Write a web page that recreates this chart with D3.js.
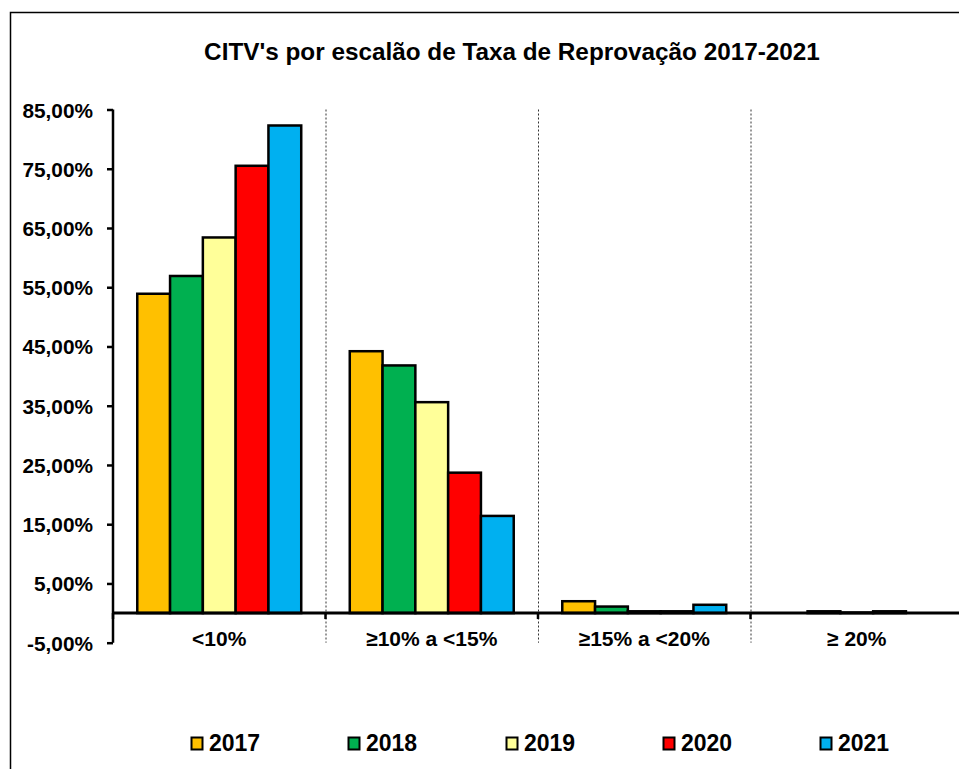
<!DOCTYPE html>
<html>
<head>
<meta charset="utf-8">
<script src="https://cdn.jsdelivr.net/npm/d3@7"></script>
<style>
  html, body { margin: 0; padding: 0; background: #fff; overflow: hidden; }
  text { font-family: "Liberation Sans", Arial, sans-serif; font-weight: bold; fill: #000; }
</style>
</head>
<body>
<svg id="chart" width="959" height="769"></svg>
<script>
const title = "CITV's por escalão de Taxa de Reprovação 2017-2021";
const categories = ["<10%", "≥10% a <15%", "≥15% a <20%", "≥ 20%"];
const years = ["2017", "2018", "2019", "2020", "2021"];
const colors = ["#FFC000", "#00B050", "#FFFF99", "#FF0000", "#00B0F0"];
const values2017 = [53.9, 44.2, 2.0, 0.0];
const values2018 = [56.9, 41.8, 1.1, 0.3];
const values2019 = [63.4, 35.6, 0.3, 0.1];
const values2020 = [75.5, 23.7, 0.3, 0.3];
const values2021 = [82.3, 16.4, 1.4, 0.0];
const yTicks = [-5, 5, 15, 25, 35, 45, 55, 65, 75, 85];

const series = [values2017, values2018, values2019, values2020, values2021];
const svg = d3.select("#chart");

// frame
svg.append("rect").attr("x", 10.5).attr("y", 12.5).attr("width", 1000).attr("height", 1000)
  .attr("fill", "none").attr("stroke", "#000").attr("stroke-width", 1.5);

const x0 = d3.scaleBand().domain(categories).range([113, 963]).padding(0);
const x1 = d3.scaleBand().domain(years).range([0, x0.bandwidth()]).paddingInner(0).paddingOuter(0.74);
const y = d3.scaleLinear().domain([-5, 85]).range([642.7, 109.5]);

// title
svg.append("text").attr("x", 512).attr("y", 60).attr("text-anchor", "middle")
  .style("font-size", "24.3px").text(title);

// dotted vertical separators
svg.append("g").selectAll("line").data(categories.slice(1).concat(["__end"]))
  .join("line")
  .attr("x1", (d, i) => 113 + x0.step() * (i + 1) + 0.5)
  .attr("x2", (d, i) => 113 + x0.step() * (i + 1) + 0.5)
  .attr("y1", y(85)).attr("y2", y(-5))
  .attr("stroke", "#333").attr("stroke-width", 1).attr("stroke-dasharray", "2,2");

// bars
const data = [];
categories.forEach((c, ci) => years.forEach((yr, yi) => data.push({ c, yr, yi, v: series[yi][ci] })));
svg.append("g").selectAll("rect").data(data).join("rect")
  .attr("x", d => x0(d.c) + x1(d.yr))
  .attr("width", x1.bandwidth())
  .attr("y", d => y(Math.max(d.v, 0)))
  .attr("height", d => Math.abs(y(d.v) - y(0)))
  .attr("fill", d => colors[d.yi])
  .attr("stroke", "#000").attr("stroke-width", 2.5);

// y axis
const yAxis = d3.axisLeft(y).tickValues(yTicks).tickSize(6).tickPadding(14)
  .tickFormat(d => d3.format(".2f")(d).replace(".", ",").replace("\u2212", "-") + "%");
const gy = svg.append("g").attr("transform", "translate(113,0)").call(yAxis);
gy.select(".domain").attr("stroke", "#000").attr("stroke-width", 2.5).attr("d", `M0,${y(85)}V${y(-5)}`);
gy.selectAll(".tick line").attr("stroke", "#000").attr("stroke-width", 2.5);
gy.selectAll(".tick text").style("font-size", "20.8px").style("font-family", '"Liberation Sans", Arial, sans-serif')
  .style("font-weight", "bold").attr("dy", "0.36em");

// x axis at zero
const gx = svg.append("g").attr("transform", `translate(0,${y(0)})`);
gx.append("line").attr("x1", 113).attr("x2", 963).attr("y1", 0).attr("y2", 0)
  .attr("stroke", "#000").attr("stroke-width", 3);
gx.selectAll(".xt").data(categories.concat(["__end"])).join("line").attr("class", "xt")
  .attr("x1", (d, i) => 113 + x0.step() * i).attr("x2", (d, i) => 113 + x0.step() * i)
  .attr("y1", 0).attr("y2", 6).attr("stroke", "#000").attr("stroke-width", 2.5);
gx.selectAll("text").data(categories).join("text")
  .attr("x", d => x0(d) + x0.bandwidth() / 2).attr("y", 33)
  .attr("text-anchor", "middle").style("font-size", "21px").text(d => d);

// legend
const legendX = [191, 348, 506, 663, 820];
const lg = svg.append("g").selectAll("g").data(years).join("g")
  .attr("transform", (d, i) => `translate(${legendX[i]},737)`);
lg.append("rect").attr("x", 0.5).attr("y", 0.5).attr("width", 11).attr("height", 12)
  .attr("fill", (d, i) => colors[i]).attr("stroke", "#000").attr("stroke-width", 2);
lg.append("text").attr("x", 18).attr("y", 14).style("font-size", "23px").text(d => d);
</script>
</body>
</html>
